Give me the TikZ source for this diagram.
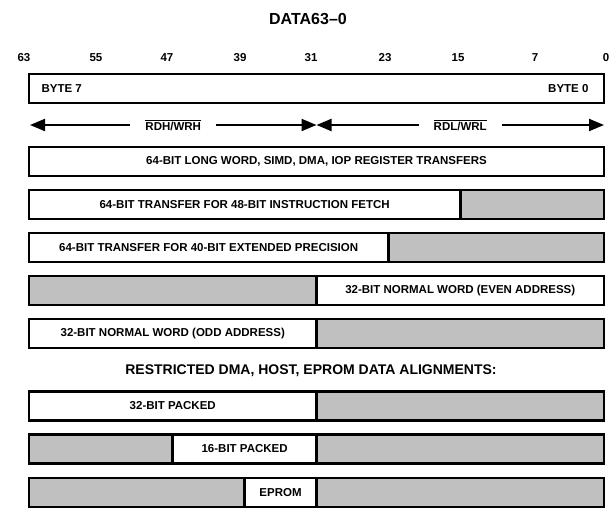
\documentclass[tikz,border=0pt]{standalone}
\usepackage{fontspec}
\setmainfont{Liberation Sans}
\usetikzlibrary{arrows.meta}
\definecolor{padgray}{RGB}{192,192,192}

\begin{document}
\begin{tikzpicture}[x = 1pt, y = 1pt,
	txt/.style = {font = \fontsize{11.5}{13}\selectfont\bfseries},
	cell/.style = {txt, draw, line width = 2.7pt, minimum height = 29pt, inner sep = 0},
	bus/.style = {line width = 2pt, {Triangle[length = 15pt, width = 12pt]}-{Triangle[length = 15pt, width = 12pt]}},
	buslabel/.style = {txt, fill = white, inner xsep = 15pt, inner ysep = 1pt}]
\useasboundingbox (0, 0) rectangle (613, -508);
\node [font = \fontsize{16}{19}\selectfont\bfseries] (title) at (308, -19) {DATA63--0};
\foreach \x/\n in {24/63, 96/55, 167/47, 240/39, 311/31, 385/23, 458/15, 535/7, 606/0}{
	\node [txt] (b\n) at (\x, -58) {\n};
};
\node [cell, minimum width = 575pt] (bytes) at (316.5, -88.5) {};
\node [txt, anchor = west] (byte7) at (38, -88.5) {BYTE 7};
\node [txt, anchor = east] (byte0) at (592, -88.5) {BYTE 0};
\coordinate (hi) at (30, -125);
\coordinate (mid) at (316.5, -125);
\coordinate (lo) at (604, -125);
\draw [bus] (hi) -- node [buslabel] (rdh) {$\overline{\hbox{RDH/WRH}}$} (mid);
\draw [bus] (mid) -- node [buslabel] (rdl) {$\overline{\hbox{RDL/WRL}}$} (lo);
\foreach \n/\y/\a/\b/\f/\t in {
		long/161.5/64/0/white/{64-BIT LONG WORD, SIMD, DMA, IOP REGISTER TRANSFERS},
		inst/204.5/64/16/white/{64-BIT TRANSFER FOR 48-BIT INSTRUCTION FETCH},
		instpad/204.5/16/0/padgray/{},
		ext/247.5/64/24/white/{64-BIT TRANSFER FOR 40-BIT EXTENDED PRECISION},
		extpad/247.5/24/0/padgray/{},
		evenpad/290.5/64/32/padgray/{},
		even/290.5/32/0/white/{32-BIT NORMAL WORD (EVEN ADDRESS)},
		odd/333.5/64/32/white/{32-BIT NORMAL WORD (ODD ADDRESS)},
		oddpad/333.5/32/0/padgray/{},
		pk/406/64/32/white/{32-BIT PACKED},
		pkpad/406/32/0/padgray/{},
		hwpadh/449/64/48/padgray/{},
		hw/449/48/32/white/{16-BIT PACKED},
		hwpadl/449/32/0/padgray/{},
		eppadh/492.5/64/40/padgray/{},
		ep/492.5/40/32/white/{EPROM},
		eppadl/492.5/32/0/padgray/{}}{
	\node [cell, fill = \f, minimum width = {(\a-\b)*8.984375pt}] (\n) at ({29+(128-\a-\b)*4.4921875}, -\y) {\t};
};
\node [font = \fontsize{14}{17}\selectfont\bfseries] (restricted) at (311, -371) {RESTRICTED DMA, HOST, EPROM DATA ALIGNMENTS:};
\end{tikzpicture}
\end{document}
